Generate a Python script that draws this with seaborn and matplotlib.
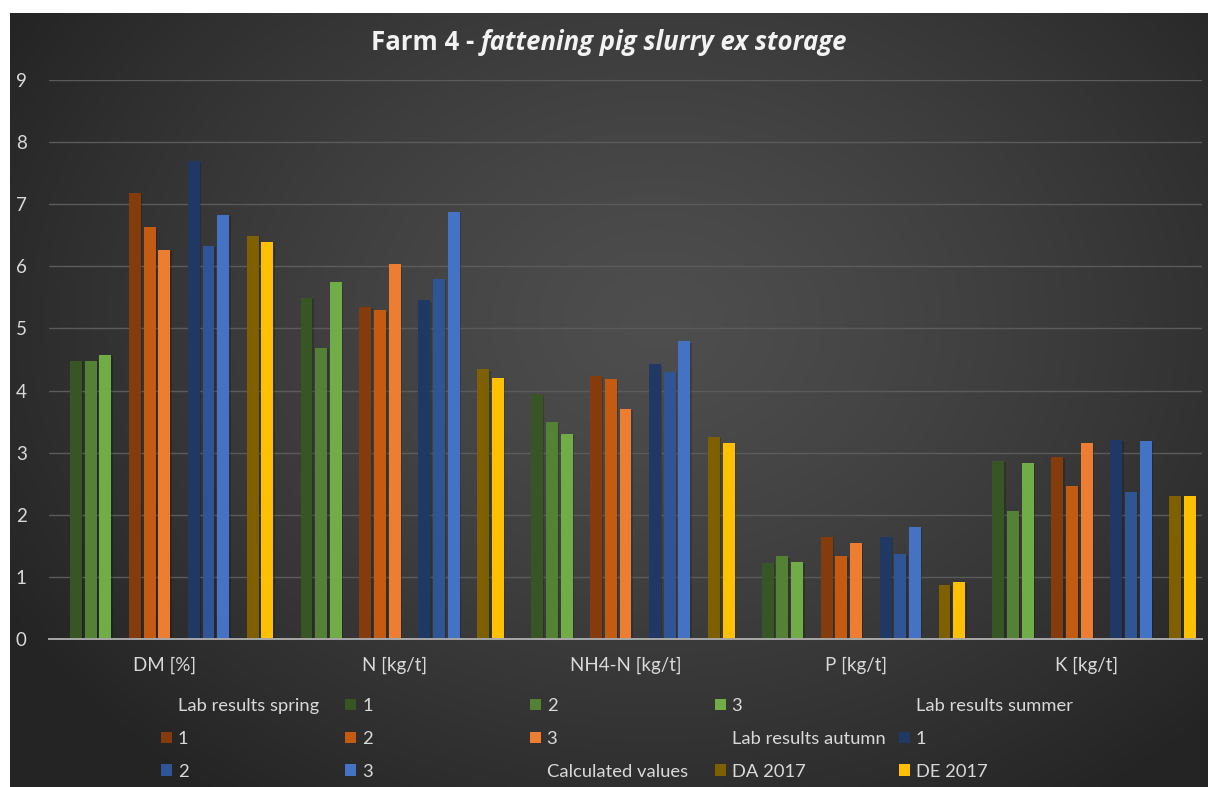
import numpy as np
import pandas as pd
import matplotlib
matplotlib.use("Agg")
import matplotlib.pyplot as plt
import matplotlib.patheffects as pe
from matplotlib.patches import Rectangle
import seaborn as sns

# ---- data -------------------------------------------------------------
categories = ["DM [%]", "N [kg/t]", "NH4-N [kg/t]", "P [kg/t]", "K [kg/t]"]

spring_1 = [4.48, 5.49, 3.94, 1.22, 2.86]
spring_2 = [4.48, 4.69, 3.49, 1.33, 2.06]
spring_3 = [4.57, 5.74, 3.30, 1.24, 2.84]
summer_1 = [7.18, 5.35, 4.24, 1.64, 2.93]
summer_2 = [6.63, 5.29, 4.19, 1.33, 2.47]
summer_3 = [6.26, 6.03, 3.71, 1.54, 3.16]
autumn_1 = [7.69, 5.45, 4.43, 1.65, 3.21]
autumn_2 = [6.33, 5.79, 4.30, 1.37, 2.37]
autumn_3 = [6.83, 6.87, 4.79, 1.81, 3.19]
da_2017 = [6.49, 4.34, 3.26, 0.87, 2.30]
de_2017 = [6.39, 4.20, 3.15, 0.92, 2.31]

y_ticks = [0, 1, 2, 3, 4, 5, 6, 7, 8, 9]

# series in plotting / legend order: (key, legend label, values, colour)
# header entries carry no values and only reserve a slot and a legend line
series = [
    ("hdr_spring", "Lab results spring", None, None),
    ("spring_1", "1", spring_1, "#375623"),
    ("spring_2", "2", spring_2, "#548235"),
    ("spring_3", "3", spring_3, "#70AD47"),
    ("hdr_summer", "Lab results summer", None, None),
    ("summer_1", "1", summer_1, "#843C0C"),
    ("summer_2", "2", summer_2, "#C55A11"),
    ("summer_3", "3", summer_3, "#ED7D31"),
    ("hdr_autumn", "Lab results autumn", None, None),
    ("autumn_1", "1", autumn_1, "#1F3864"),
    ("autumn_2", "2", autumn_2, "#2F5597"),
    ("autumn_3", "3", autumn_3, "#4472C4"),
    ("hdr_calc", "Calculated values", None, None),
    ("da_2017", "DA 2017", da_2017, "#7F6000"),
    ("de_2017", "DE 2017", de_2017, "#FFC000"),
]

rows = []
for key, label, vals, col in series:
    if vals is None:
        continue
    for cat, v in zip(categories, vals):
        rows.append({"category": cat, "series": key, "value": v})
df = pd.DataFrame(rows)

hue_order = [s[0] for s in series]
palette = {s[0]: (s[3] if s[3] else "#000000") for s in series}

# ---- style ------------------------------------------------------------
sns.set_theme(style="white")
plt.rcParams["font.family"] = ["Lato", "DejaVu Sans"]

W, H = 1208, 787
fig = plt.figure(figsize=(W / 100, H / 100), dpi=100, facecolor="white")

# dark gradient panel behind the chart
bg_left, bg_top = 10, 13
bg_ax = fig.add_axes([bg_left / W, 0, (W - bg_left) / W, (H - bg_top) / H])
gx, gy = np.meshgrid(np.linspace(0, 1, 400), np.linspace(0, 1, 260))
cx, cy = 0.54, 0.40
r = np.sqrt(((gx - cx) / 0.62) ** 2 + ((gy - cy) / 0.75) ** 2)
shade = 0.305 - 0.16 * np.clip(r, 0, 1) ** 1.3
bg_ax.imshow(np.dstack([shade] * 3), extent=(0, 1, 1, 0), aspect="auto",
             interpolation="bilinear")
bg_ax.set_axis_off()

# plotting area
ax_l, ax_r, ax_b, ax_t = 49, 1202, 639, 80
ax = fig.add_axes([ax_l / W, (H - ax_b) / H, (ax_r - ax_l) / W, (ax_b - ax_t) / H])
ax.patch.set_alpha(0)

sns.barplot(data=df, x="category", y="value", hue="series",
            order=categories, hue_order=hue_order, palette=palette,
            width=0.958, gap=0.19, saturation=1, errorbar=None,
            legend=False, ax=ax)

for bar in ax.patches:
    bar.set_edgecolor("none")
    bar.set_path_effects([pe.withSimplePatchShadow(offset=(1.0, -0.8),
                                                   shadow_rgbFace="black",
                                                   alpha=0.18),
                          pe.Normal()])

ax.set_ylim(0, 9)
ax.set_yticks(y_ticks)
ax.set_xlim(-0.5, len(categories) - 0.5)
ax.set_xlabel("")
ax.set_ylabel("")
ax.set_axisbelow(True)
ax.yaxis.grid(True, color="#5b5b5b", linewidth=1.0)
ax.xaxis.grid(False)
for side in ("top", "left", "right"):
    ax.spines[side].set_visible(False)
ax.spines["bottom"].set_color("#a8a8a8")
ax.spines["bottom"].set_linewidth(1.4)
ax.tick_params(axis="both", length=0, labelcolor="#d9d9d9", labelsize=13.5)
ax.tick_params(axis="y", pad=16)
ax.tick_params(axis="x", pad=13)

# title: bold lead-in followed by a bold italic part
title_y = 1 - 43 / H
t1 = fig.text(0, title_y, "Farm 4 - ", fontsize=18.5, fontweight="bold",
              color="#f2f2f2", va="center", ha="left",
              family=["Open Sans", "DejaVu Sans"])
t2 = fig.text(0, title_y, "fattening pig slurry ex storage", fontsize=18.5,
              fontweight="bold", fontstyle="italic", color="#f2f2f2",
              va="center", ha="left", family=["Open Sans", "DejaVu Sans"])
fig.canvas.draw()
rend = fig.canvas.get_renderer()
w1 = t1.get_window_extent(rend).width
w2 = t2.get_window_extent(rend).width
x0 = (bg_left + W) / 2 - (w1 + w2) / 2
t1.set_x(x0 / W)
t2.set_x((x0 + w1) / W)

# legend laid out as five evenly spaced columns, filled row by row
col_x = [161, 345.5, 530, 715, 899]
legend_top = 698
for j, xj in enumerate(col_x):
    handles, labels = [], []
    for key, label, vals, col in series[j::5]:
        if col is None:
            handles.append(Rectangle((0, 0), 1, 1, facecolor="none", edgecolor="none"))
        else:
            handles.append(Rectangle((0, 0), 1, 1, facecolor=col, edgecolor="none"))
        labels.append(label)
    fig.legend(handles, labels, loc="upper left",
               bbox_to_anchor=(xj / W, 1 - legend_top / H),
               frameon=False, fontsize=13.2, labelcolor="#d9d9d9",
               handlelength=0.6, handleheight=0.6, handletextpad=0.31,
               labelspacing=0.92, borderpad=0, borderaxespad=0)

fig.savefig("out.png", dpi=100, facecolor="white")
